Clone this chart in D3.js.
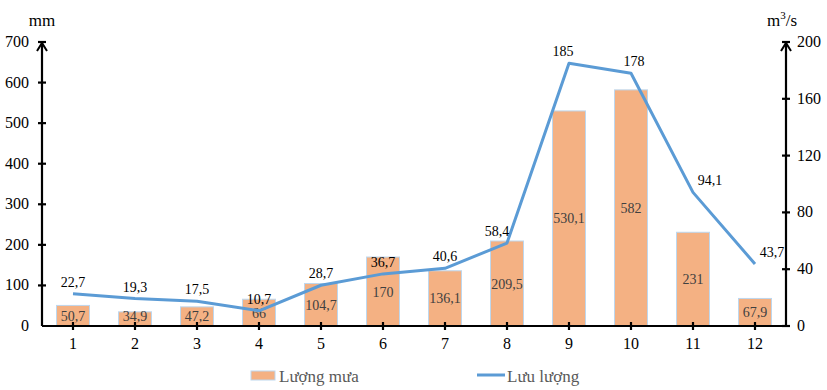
<!DOCTYPE html>
<html><head><meta charset="utf-8">
<script src="https://cdn.jsdelivr.net/npm/d3@7"></script>
<style>body{margin:0;background:#fff}svg{display:block}
svg text{font-family:"Liberation Serif",Tinos,"Times New Roman",Times,"DejaVu Serif",serif !important}</style>
</head><body>
<svg id="c" width="827" height="390"></svg>
<script>
const months = ["1","2","3","4","5","6","7","8","9","10","11","12"];
const rain = [50.7,34.9,47.2,66,104.7,170,136.1,209.5,530.1,582,231,67.9];
const flow = [22.7,19.3,17.5,10.7,28.7,36.7,40.6,58.4,185,178,94.1,43.7];
const leftTicks = [0,100,200,300,400,500,600,700];
const rightTicks = [0,40,80,120,160,200];
const seriesNames = ["Lượng mưa","Lưu lượng"];

const fmt = v => String(v).replace(".", ",");
const svg = d3.select("#c");
const L = 42, R = 786, T = 42, B = 326;

const x = d3.scaleBand().domain(months).range([L, R]).paddingInner(0).paddingOuter(0);
const yL = d3.scaleLinear().domain([0,700]).range([B, T]);
const yR = d3.scaleLinear().domain([0,200]).range([B, T]);
const cx = m => x(m) + x.bandwidth()/2;
const bw = 33;

svg.append("g").selectAll("rect").data(rain).join("rect")
  .attr("x", (d,i) => cx(months[i]) - bw/2)
  .attr("y", d => yL(d))
  .attr("width", bw)
  .attr("height", d => B - yL(d))
  .attr("fill", "#F4B183")
  .attr("stroke", "#BDD7EE").attr("stroke-width", 1);

svg.append("g").selectAll("text").data(rain).join("text")
  .attr("x", (d,i) => cx(months[i]))
  .attr("y", d => Math.min((yL(d) + B)/2 + 5, B - 5))
  .attr("text-anchor", "middle")
  .attr("font-size", 14).attr("fill", "#404040")
  .text(d => fmt(d));

const line = d3.line().x((d,i) => cx(months[i])).y(d => yR(d));
svg.append("path").datum(flow).attr("d", line)
  .attr("fill", "none").attr("stroke", "#5B9BD5").attr("stroke-width", 3)
  .attr("stroke-linejoin", "round");

svg.append("g").selectAll("text").data(flow).join("text")
  .attr("x", (d,i) => cx(months[i]) + (i >= 10 ? 17 : (i === 7 ? -10 : (i===8 ? -6 : (i===9? 3:0)))))
  .attr("y", (d,i) => yR(d) - 7)
  .attr("text-anchor", "middle")
  .attr("font-size", 14).attr("fill", "#000")
  .text(d => fmt(d));

const axisG = svg.append("g").attr("stroke", "#000").attr("stroke-width", 2.2);
axisG.append("line").attr("x1", L).attr("x2", L).attr("y1", B).attr("y2", T);
axisG.append("line").attr("x1", R).attr("x2", R).attr("y1", B).attr("y2", T);
axisG.append("line").attr("x1", L).attr("x2", R+4).attr("y1", B).attr("y2", B);
[L, R].forEach(ax => {
  axisG.append("path").attr("d", `M${ax-5},${T+9}L${ax},${T+1}L${ax+5},${T+9}`)
    .attr("fill", "none").attr("stroke-width", 2);
});
axisG.selectAll(".tl").data(leftTicks.slice(1,-1)).join("line")
  .attr("x1", L-4).attr("x2", L+4).attr("y1", d => yL(d)).attr("y2", d => yL(d));
axisG.append("line").attr("x1", L-4).attr("x2", L+4).attr("y1", T).attr("y2", T);
axisG.selectAll(".tr").data(rightTicks.slice(0,-1)).join("line")
  .attr("x1", R-4).attr("x2", R+4).attr("y1", d => yR(d)).attr("y2", d => yR(d));
axisG.append("line").attr("x1", R-4).attr("x2", R+4).attr("y1", T).attr("y2", T);
axisG.selectAll(".tx").data(months).join("line")
  .attr("x1", d => cx(d)).attr("x2", d => cx(d)).attr("y1", B-4).attr("y2", B+4);

svg.append("g").selectAll("text").data(leftTicks).join("text")
  .attr("x", 29).attr("y", d => yL(d) + 5).attr("text-anchor", "end")
  .attr("font-size", 16).attr("fill", "#000").text(d => d);
svg.append("g").selectAll("text").data(rightTicks).join("text")
  .attr("x", 797).attr("y", d => yR(d) + 5).attr("text-anchor", "start")
  .attr("font-size", 16).attr("fill", "#000").text(d => d);
svg.append("g").selectAll("text").data(months).join("text")
  .attr("x", d => cx(d)).attr("y", 349).attr("text-anchor", "middle")
  .attr("font-size", 16).attr("fill", "#000").text(d => d);

svg.append("text").attr("x", 42).attr("y", 26).attr("text-anchor", "middle")
  .attr("font-size", 17).text("mm");
const t2 = svg.append("text").attr("x", 767).attr("y", 26).attr("font-size", 17);
t2.append("tspan").text("m");
t2.append("tspan").attr("dy", -7).attr("font-size", 11).text("3");
t2.append("tspan").attr("dy", 7).text("/s");

const lg = svg.append("g");
lg.append("rect").attr("x", 251).attr("y", 371).attr("width", 24).attr("height", 9)
  .attr("fill", "#F4B183").attr("stroke", "#BDD7EE");
lg.append("text").attr("x", 279).attr("y", 382)
  .attr("font-size", 17).attr("fill", "#595959").text(seriesNames[0]);
lg.append("line").attr("x1", 477).attr("x2", 505).attr("y1", 375).attr("y2", 375)
  .attr("stroke", "#5B9BD5").attr("stroke-width", 3);
lg.append("text").attr("x", 507).attr("y", 382)
  .attr("font-size", 17).attr("fill", "#595959").text(seriesNames[1]);
</script>
</body></html>
